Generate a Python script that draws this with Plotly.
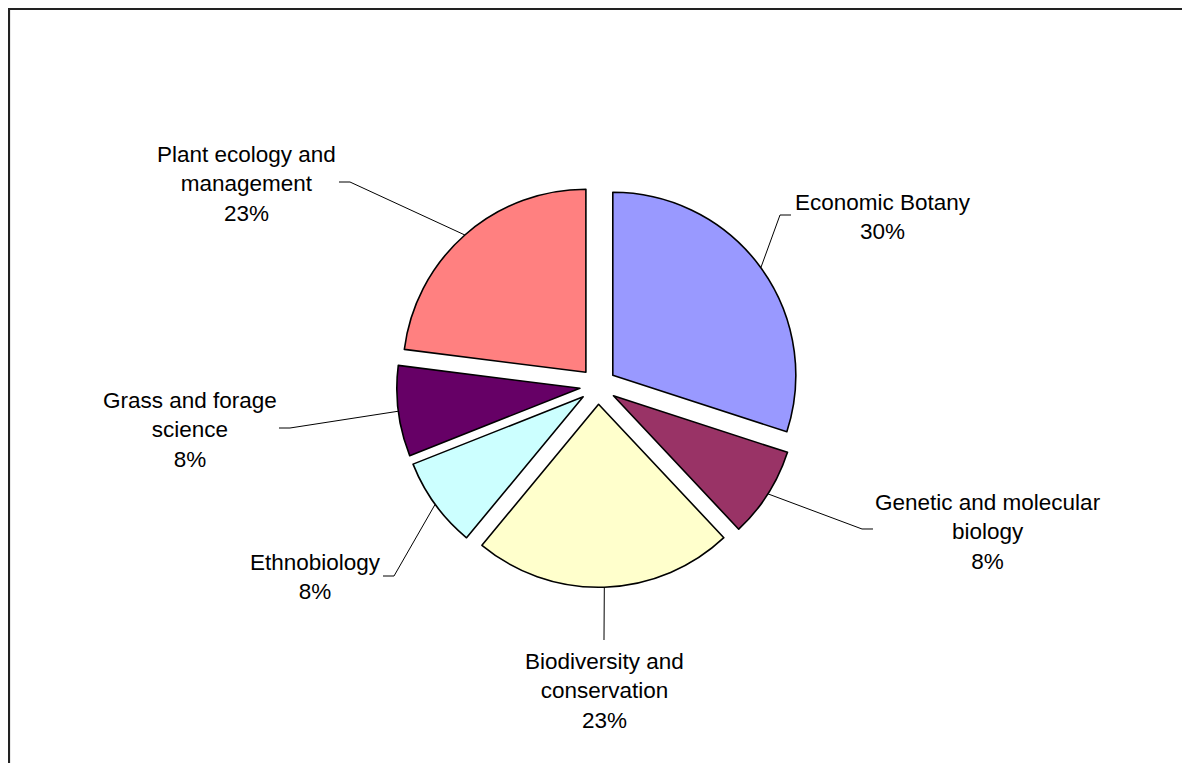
import math
import plotly.graph_objects as go

# data
topics = [
    "Economic Botany",
    "Genetic and molecular<br>biology",
    "Biodiversity and<br>conservation",
    "Ethnobiology",
    "Grass and forage<br>science",
    "Plant ecology and<br>management",
]
shares = [30, 8, 23, 8, 8, 23]
colors = ["#9999FF", "#993366", "#FFFFCC", "#CCFFFF", "#660066", "#FF8080"]

# layout (screen pixels; page body adds an 8px offset)
W, H = 1190, 763
OFF = 8
PIE_CX, PIE_CY, PIE_R = 598, 386, 183
PULL = 0.1
# label text centre, elbow of leader line, stub direction (-1 left, +1 right, 0 none)
label_pos = [(883, 217), (988, 532), (604, 691), (315, 577), (190, 430), (246, 184)]
elbow_pos = [(780, 215), (862, 529), (604, 640), (394, 576), (290, 428), (350, 182)]
stub_dir = [1, 1, 0, -1, -1, -1]


def px(x, y):
    return (x - OFF) / W, 1 - (y - OFF) / H


half = PIE_R * (1 + PULL)
dom_x = [(PIE_CX - OFF - half) / W, (PIE_CX - OFF + half) / W]
dom_y = [1 - (PIE_CY - OFF + half) / H, 1 - (PIE_CY - OFF - half) / H]

fig = go.Figure(go.Pie(
    labels=topics, values=shares, sort=False, direction="clockwise", rotation=0,
    pull=[PULL] * len(shares), textinfo="none", hoverinfo="label+percent",
    marker=dict(colors=colors, line=dict(color="black", width=1.6)),
    domain=dict(x=dom_x, y=dom_y), showlegend=False,
))

total = sum(shares)
bx, by = px(9, 9)
shapes = [dict(type="rect", xref="paper", yref="paper",
               x0=bx, y0=-0.1, x1=1.1, y1=by,
               line=dict(color="#222222", width=2.2))]
annotations = []
cum = 0
for name, v, (tx, ty), (ex, ey), sd in zip(topics, shares, label_pos, elbow_pos, stub_dir):
    mid = (cum + v / 2) / total * 2 * math.pi
    cum += v
    ax = PIE_CX + half * math.sin(mid)
    ay = PIE_CY - half * math.cos(mid)
    pts = [px(ax, ay), px(ex, ey)]
    if sd:
        pts.append(px(ex + 11 * sd, ey))
    path = "M " + " L ".join(f"{x:.5f},{y:.5f}" for x, y in pts)
    shapes.append(dict(type="path", xref="paper", yref="paper", path=path,
                       line=dict(color="black", width=1)))
    lx, ly = px(tx, ty)
    annotations.append(dict(
        x=lx, y=ly, xref="paper", yref="paper", showarrow=False,
        text=f"{name}<br>{round(v / total * 100)}%", align="center",
        xanchor="center", yanchor="middle",
        font=dict(family="Liberation Sans, Arial", size=22.5, color="black"),
    ))

fig.update_layout(
    width=W, height=H, margin=dict(l=0, r=0, t=0, b=0),
    paper_bgcolor="white", plot_bgcolor="white",
    shapes=shapes, annotations=annotations,
)
fig.write_html("out.html")
